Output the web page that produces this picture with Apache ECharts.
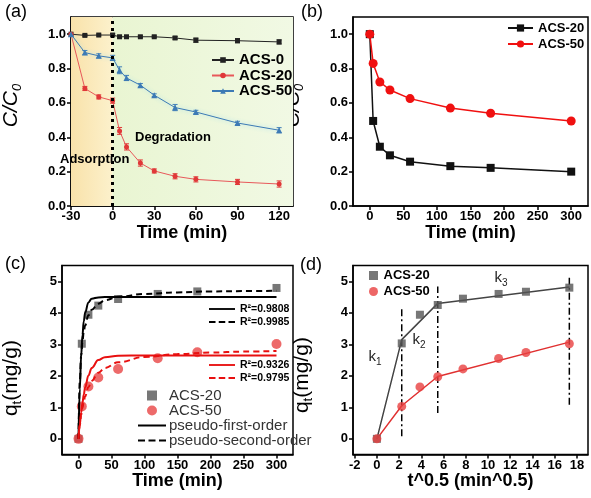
<!DOCTYPE html>
<html><head><meta charset="utf-8">
<script src="https://cdn.jsdelivr.net/npm/echarts@6/dist/echarts.min.js"></script>
<style>html,body{margin:0;padding:0;background:#fff}#c{width:591px;height:498px}</style>
</head><body><div id="c"></div>
<script>
// ---------- Panel (a) ----------
const timeA = [-30, -20, -10, 0, 5, 10, 20, 30, 45, 60, 90, 120];
const a_acs0 = [1.0, 0.993, 0.995, 0.995, 0.985, 0.985, 0.985, 0.985, 0.978, 0.965, 0.962, 0.955];
const a_acs20 = [1.0, 0.684, 0.635, 0.613, 0.437, 0.344, 0.25, 0.204, 0.173, 0.155, 0.14, 0.128];
const a_acs50 = [1.0, 0.893, 0.874, 0.862, 0.79, 0.745, 0.703, 0.645, 0.573, 0.547, 0.483, 0.441];
const a_err0 = [0, 0.005, 0.005, 0.008, 0.005, 0.005, 0.005, 0.005, 0.008, 0.012, 0.012, 0.012];
const a_err20 = [0, 0.012, 0.012, 0.015, 0.02, 0.018, 0.018, 0.012, 0.015, 0.015, 0.015, 0.018];
const a_err50 = [0, 0.012, 0.012, 0.015, 0.02, 0.015, 0.01, 0.008, 0.018, 0.01, 0.01, 0.015];
const tickA_x = [-30, 0, 30, 60, 90, 120];
const tickC_y = [0, 0.2, 0.4, 0.6, 0.8, 1.0];

// ---------- Panel (b) ----------
const timeB = [0, 5, 15, 30, 60, 120, 180, 300];
const b_acs20 = [1.0, 0.495, 0.345, 0.295, 0.258, 0.232, 0.222, 0.2];
const b_acs50 = [1.0, 0.83, 0.722, 0.675, 0.625, 0.57, 0.54, 0.495];
const tickB_x = [0, 50, 100, 150, 200, 250, 300];

// ---------- Panel (c) ----------
const timeC = [0, 5, 15, 30, 60, 120, 180, 300];
const c_acs20 = [0, 3.02, 3.94, 4.23, 4.44, 4.6, 4.68, 4.79];
const c_acs50 = [0, 1.03, 1.66, 1.95, 2.22, 2.56, 2.75, 3.01];
const timeFit = [0, 2, 4, 6, 8, 10, 15, 20, 30, 40, 60, 100, 150, 200, 250, 300];
const c_pfo20 = [0, 1.6, 2.63, 3.3, 3.73, 4.0, 4.33, 4.45, 4.49, 4.5, 4.5, 4.5, 4.5, 4.5, 4.5, 4.5];
const c_pso20 = [0, 1.83, 2.64, 3.1, 3.4, 3.6, 3.92, 4.1, 4.29, 4.4, 4.51, 4.6, 4.65, 4.68, 4.69, 4.7];
const c_pfo50 = [0, 0.46, 0.84, 1.15, 1.41, 1.62, 2.01, 2.25, 2.5, 2.59, 2.64, 2.65, 2.65, 2.65, 2.65, 2.65];
const c_pso50 = [0, 0.43, 0.75, 0.99, 1.19, 1.35, 1.64, 1.84, 2.1, 2.25, 2.43, 2.6, 2.69, 2.74, 2.77, 2.79];
const tickQ_y = [0, 1, 2, 3, 4, 5];

// ---------- Panel (d) ----------
const sqrtT = [0, 2.236, 3.873, 5.477, 7.746, 10.954, 13.416, 17.32];
const d_acs20 = [0, 3.03, 3.94, 4.25, 4.45, 4.6, 4.67, 4.8];
const d_acs50 = [0, 1.03, 1.65, 1.97, 2.22, 2.55, 2.74, 3.02];
const d_fitX = [0, 2.236, 5.477, 17.32];
const d_fit20 = [0, 3.15, 4.3, 4.82];
const d_fit50 = [0, 1.05, 1.98, 3.07];
const d_vlineX = [2.236, 5.477, 17.32];
const d_vlineTop = [4.15, 4.84, 5.16];
const d_vlineBot = [0.08, 0.82, 1.08];
const tickD_x = [-2, 0, 2, 4, 6, 8, 10, 12, 14, 16, 18];

const FF = 'Liberation Sans, Arial, Helvetica, sans-serif';
const pairs = (xs, ys) => xs.map((x, i) => [x, ys[i]]);
const strip = n => n.slice(2);

function xAx(gi, min, max, ticks, name) {
  return {
    type: 'value', gridIndex: gi, min, max, name, nameLocation: 'middle', nameGap: 14,
    nameTextStyle: { fontSize: 18, fontWeight: 'bold', color: '#000', fontFamily: FF },
    axisLine: { show: true, onZero: false, lineStyle: { color: '#000', width: 1.5 } },
    axisTick: { show: true, length: 4, customValues: ticks, lineStyle: { color: '#000', width: 1.5 } },
    axisLabel: { customValues: ticks, fontSize: 13, fontWeight: 'bold', color: '#000', margin: 4, fontFamily: FF },
    splitLine: { show: false }
  };
}
function yAx(gi, min, max, ticks, name, rich, gap, fmt, pad) {
  return {
    type: 'value', gridIndex: gi, min, max, name, nameLocation: 'middle', nameGap: gap,
    nameTextStyle: { color: '#000', fontFamily: FF, rich, padding: pad },
    axisLine: { show: true, onZero: false, lineStyle: { color: '#000', width: 1.5 } },
    axisTick: { show: true, length: 4, customValues: ticks, lineStyle: { color: '#000', width: 1.5 } },
    axisLabel: { customValues: ticks, fontSize: 13, fontWeight: 'bold', color: '#000', margin: 5, fontFamily: FF, formatter: fmt },
    splitLine: { show: false }
  };
}
function errSeries(xi, xs, ys, es, color) {
  return {
    type: 'custom', xAxisIndex: xi, yAxisIndex: xi, silent: true, z: 3,
    data: xs.map((x, i) => [x, ys[i], es[i]]),
    encode: { x: 0, y: 1 },
    renderItem(params, api) {
      const x = api.value(0), y = api.value(1), e = api.value(2);
      if (!e) return null;
      const hi = api.coord([x, y + e]), lo = api.coord([x, y - e]);
      const w = 2.5, st = { stroke: color, lineWidth: 1 };
      return { type: 'group', children: [
        { type: 'line', shape: { x1: hi[0], y1: hi[1], x2: lo[0], y2: lo[1] }, style: st },
        { type: 'line', shape: { x1: hi[0] - w, y1: hi[1], x2: hi[0] + w, y2: hi[1] }, style: st },
        { type: 'line', shape: { x1: lo[0] - w, y1: lo[1], x2: lo[0] + w, y2: lo[1] }, style: st }
      ] };
    }
  };
}

const ccRich = {
  i: { fontSize: 21, fontStyle: 'italic', color: '#000', lineHeight: 22, verticalAlign: 'top', fontFamily: FF },
  s: { fontSize: 13, fontStyle: 'italic', color: '#000', lineHeight: 32, fontFamily: FF }
};
const qRich = {
  a: { fontSize: 21, color: '#000', lineHeight: 22, verticalAlign: 'top', fontFamily: FF },
  s: { fontSize: 13, color: '#000', lineHeight: 32, fontFamily: FF }
};

const C20 = '#e8585a', C50 = '#3d7ab5';
const series = [];
// (a) background
series.push({
  type: 'line', xAxisIndex: 0, yAxisIndex: 0, z: 0, silent: true, symbol: 'none',
  data: pairs(timeA, a_acs0), lineStyle: { opacity: 0 },
  markArea: { silent: true, data: [
    [{ xAxis: -30, itemStyle: { opacity: 1, color: { type: 'linear', x: 0, y: 0, x2: 1, y2: 0, colorStops: [{ offset: 0, color: '#f9e2aa' }, { offset: 1, color: '#fcf1cc' }] } } }, { xAxis: 0 }],
    [{ xAxis: 0, itemStyle: { opacity: 1, color: { type: 'linear', x: 0, y: 0, x2: 1, y2: 0, colorStops: [{ offset: 0, color: '#e9f5d2' }, { offset: 1, color: '#f1f9e4' }] } } }, { xAxis: 130 }]
  ] },
  markLine: { silent: true, symbol: 'none', label: { show: false },
    lineStyle: { color: '#000', width: 3, type: [3, 4] }, data: [{ xAxis: 0 }] }
});
series.push({ name: 'a:ACS-0', type: 'line', xAxisIndex: 0, yAxisIndex: 0, data: pairs(timeA, a_acs0),
  symbol: 'rect', symbolSize: 5, itemStyle: { color: '#222' }, lineStyle: { color: '#222', width: 1 } });
series.push({ name: 'a:ACS-20', type: 'line', xAxisIndex: 0, yAxisIndex: 0, data: pairs(timeA, a_acs20),
  symbol: 'circle', symbolSize: 5, itemStyle: { color: '#e03838' }, lineStyle: { color: C20, width: 1 } });
series.push({ name: 'a:ACS-50', type: 'line', xAxisIndex: 0, yAxisIndex: 0, data: pairs(timeA, a_acs50),
  symbol: 'triangle', symbolSize: 6, itemStyle: { color: C50 },
  lineStyle: { color: C50, width: 1, shadowColor: 'rgba(150,220,240,0.9)', shadowBlur: 4 } });
series.push(errSeries(0, timeA, a_acs0, a_err0, '#222'));
series.push(errSeries(0, timeA, a_acs20, a_err20, '#e03838'));
series.push(errSeries(0, timeA, a_acs50, a_err50, C50));

// (b)
series.push({ name: 'b:ACS-20', type: 'line', xAxisIndex: 1, yAxisIndex: 1, data: pairs(timeB, b_acs20),
  symbol: 'rect', symbolSize: 8, itemStyle: { color: '#111' }, lineStyle: { color: '#111', width: 1.5 } });
series.push({ name: 'b:ACS-50', type: 'line', xAxisIndex: 1, yAxisIndex: 1, data: pairs(timeB, b_acs50),
  symbol: 'circle', symbolSize: 9, itemStyle: { color: '#f01010' }, lineStyle: { color: '#f01010', width: 1.5 } });

// (c)
const fitLine = (name, ys, color, type) => ({ name, type: 'line', xAxisIndex: 2, yAxisIndex: 2,
  data: pairs(timeFit, ys), showSymbol: false, symbol: 'none', smooth: 0.4, smoothMonotone: 'x', z: 3,
  itemStyle: { color }, lineStyle: { color, width: 2, type } });
series.push(fitLine('c:R²=0.9808', c_pfo20, '#000', 'solid'));
series.push(fitLine('c:R²=0.9985', c_pso20, '#000', [6, 4]));
series.push(fitLine('c:R²=0.9326', c_pfo50, '#e81010', 'solid'));
series.push(fitLine('c:R²=0.9795', c_pso50, '#e81010', [6, 4]));
series.push({ name: 'c:ACS-20', type: 'scatter', xAxisIndex: 2, yAxisIndex: 2, data: pairs(timeC, c_acs20),
  symbol: 'rect', symbolSize: 8, itemStyle: { color: '#555' }, z: 2 });
series.push({ name: 'c:ACS-50', type: 'scatter', xAxisIndex: 2, yAxisIndex: 2, data: pairs(timeC, c_acs50),
  symbol: 'circle', symbolSize: 10, itemStyle: { color: '#e84545' }, z: 2 });
series.push({ name: 'c:pseudo-first-order', type: 'line', xAxisIndex: 2, yAxisIndex: 2, data: [],
  symbol: 'none', itemStyle: { color: '#000' }, lineStyle: { color: '#000', width: 2 } });
series.push({ name: 'c:pseudo-second-order', type: 'line', xAxisIndex: 2, yAxisIndex: 2, data: [],
  symbol: 'none', itemStyle: { color: '#000' }, lineStyle: { color: '#000', width: 2, type: [6, 4] } });

// (d)
d_vlineX.forEach((x, i) => series.push({ type: 'line', xAxisIndex: 3, yAxisIndex: 3, silent: true,
  data: [[x, d_vlineBot[i]], [x, d_vlineTop[i]]], symbol: 'none',
  lineStyle: { color: '#000', width: 1.5, type: [7, 3, 2, 3] } }));
series.push({ type: 'line', xAxisIndex: 3, yAxisIndex: 3, data: pairs(d_fitX, d_fit20), symbol: 'none',
  lineStyle: { color: '#444', width: 1.5 }, silent: true });
series.push({ type: 'line', xAxisIndex: 3, yAxisIndex: 3, data: pairs(d_fitX, d_fit50), symbol: 'none',
  lineStyle: { color: '#e03030', width: 1.5 }, silent: true });
series.push({ name: 'd:ACS-20', type: 'scatter', xAxisIndex: 3, yAxisIndex: 3, data: pairs(sqrtT, d_acs20),
  symbol: 'rect', symbolSize: 8, itemStyle: { color: '#555' }, z: 4 });
series.push({ name: 'd:ACS-50', type: 'scatter', xAxisIndex: 3, yAxisIndex: 3, data: pairs(sqrtT, d_acs50),
  symbol: 'circle', symbolSize: 9, itemStyle: { color: '#e84040' }, z: 4 });

const gridBase = { show: true, borderColor: '#000', borderWidth: 1.5, backgroundColor: 'transparent' };
const lg = (o) => Object.assign({ orient: 'vertical', formatter: strip, selectedMode: false, padding: 0 }, o);
const SOLID = 'path://M0,0h28v2h-28z';
const DASH = 'path://M0,0h7v2h-7z M10.5,0h7v2h-7z M21,0h7v2h-7z';
const SQ = 'path://M0,0h10v10h-10z';

const kText = (k, x, y) => ({ type: 'text', x, y, z: 100, silent: true, style: {
  text: '{k|k}{s|' + k + '}', align: 'center', verticalAlign: 'middle',
  rich: { k: { fontSize: 15, fill: '#222', lineHeight: 16, verticalAlign: 'top', fontFamily: FF },
          s: { fontSize: 10, fill: '#222', lineHeight: 26, fontFamily: FF } } } });
const plain = (t, x, y, font) => ({ type: 'text', x, y, z: 100, silent: true, style: { text: t, font, fill: '#000', verticalAlign: 'middle' } });

const option = {
  animation: false,
  textStyle: { fontFamily: FF },
  grid: [
    Object.assign({ left: 58, top: 17, width: 235, height: 189 }, gridBase),
    Object.assign({ left: 353, top: 17, width: 235, height: 189 }, gridBase),
    Object.assign({ left: 58, top: 265.6, width: 235, height: 189 }, gridBase),
    Object.assign({ left: 353, top: 265.6, width: 235, height: 189 }, gridBase)
  ],
  xAxis: [
    xAx(0, -30, 130, tickA_x, 'Time (min)'),
    xAx(1, -25, 325, tickB_x, 'Time (min)'),
    xAx(2, -25, 325, tickB_x, 'Time (min)'),
    xAx(3, -2.15, 19, tickD_x, 't^0.5 (min^0.5)')
  ],
  yAxis: [
    yAx(0, 0, 1.1, tickC_y, '{i|C/C}{s|0}', ccRich, 38, v => v.toFixed(1), [0, 0, 0, 12]),
    yAx(1, 0, 1.1, tickC_y, '{i|C/C}{s|0}', ccRich, 38, v => v.toFixed(1), [0, 0, 0, 12]),
    yAx(2, -0.5, 5.5, tickQ_y, '{a|q}{s|t}{a|(mg/g)}', qRich, 29, v => String(v), [0, 36, 0, 0]),
    yAx(3, -0.5, 5.5, tickQ_y, '{a|q}{s|t}{a|(mg/g)}', qRich, 29, v => String(v), [0, 30, 0, 0])
  ],
  legend: [
    lg({ data: ['a:ACS-0', 'a:ACS-20', 'a:ACS-50'],
      left: 211, top: 52.5, itemWidth: 22, itemHeight: 7, itemGap: 0.5,
      textStyle: { fontSize: 15, fontWeight: 'bold', color: '#000', lineHeight: 15 } }),
    lg({ data: ['b:ACS-20', 'b:ACS-50'], left: 507, top: 21, itemWidth: 25, itemHeight: 9, itemGap: 2,
      textStyle: { fontSize: 13, fontWeight: 'bold', color: '#000', lineHeight: 14 } }),
    lg({ data: [{ name: 'c:R²=0.9808', icon: SOLID }, { name: 'c:R²=0.9985', icon: DASH }], left: 209, top: 303,
      itemWidth: 26, itemHeight: 10, itemGap: 1,
      textStyle: { fontSize: 10.5, fontWeight: 'bold', color: '#000', lineHeight: 12 } }),
    lg({ data: [{ name: 'c:R²=0.9326', icon: SOLID }, { name: 'c:R²=0.9795', icon: DASH }], left: 209, top: 359,
      itemWidth: 26, itemHeight: 10, itemGap: 1,
      textStyle: { fontSize: 10.5, fontWeight: 'bold', color: '#000', lineHeight: 12 } }),
    lg({ data: [{ name: 'c:ACS-20', icon: SQ }, { name: 'c:ACS-50', icon: 'circle' },
                { name: 'c:pseudo-first-order', icon: SOLID }, { name: 'c:pseudo-second-order', icon: DASH }],
      left: 138, top: 388, itemWidth: 28, itemHeight: 10, itemGap: 0, itemStyle: { borderWidth: 0 },
      textStyle: { fontSize: 15, color: '#333', lineHeight: 15, padding: [0, 0, 0, -2] } }),
    lg({ data: [{ name: 'd:ACS-20', icon: SQ }, { name: 'd:ACS-50', icon: 'circle' }], left: 369, top: 269,
      itemWidth: 10, itemHeight: 9, itemGap: 3,
      textStyle: { fontSize: 13, fontWeight: 'bold', color: '#000', lineHeight: 13 } })
  ],
  graphic: [
    plain('(a)', 5, 12, '18px ' + FF),
    plain('(b)', 301, 12, '18px ' + FF),
    plain('(c)', 5, 264, '18px ' + FF),
    plain('(d)', 300, 265, '18px ' + FF),
    plain('Adsorption', 60, 159, 'bold 13px ' + FF),
    plain('Degradation', 135, 137, 'bold 13px ' + FF),
    kText('1', 375, 362),
    kText('2', 419, 345),
    kText('3', 501, 283)
  ],
  series
};
const chart = echarts.init(document.getElementById('c'), null, { renderer: 'canvas' });
chart.setOption(option);
</script></body></html>
